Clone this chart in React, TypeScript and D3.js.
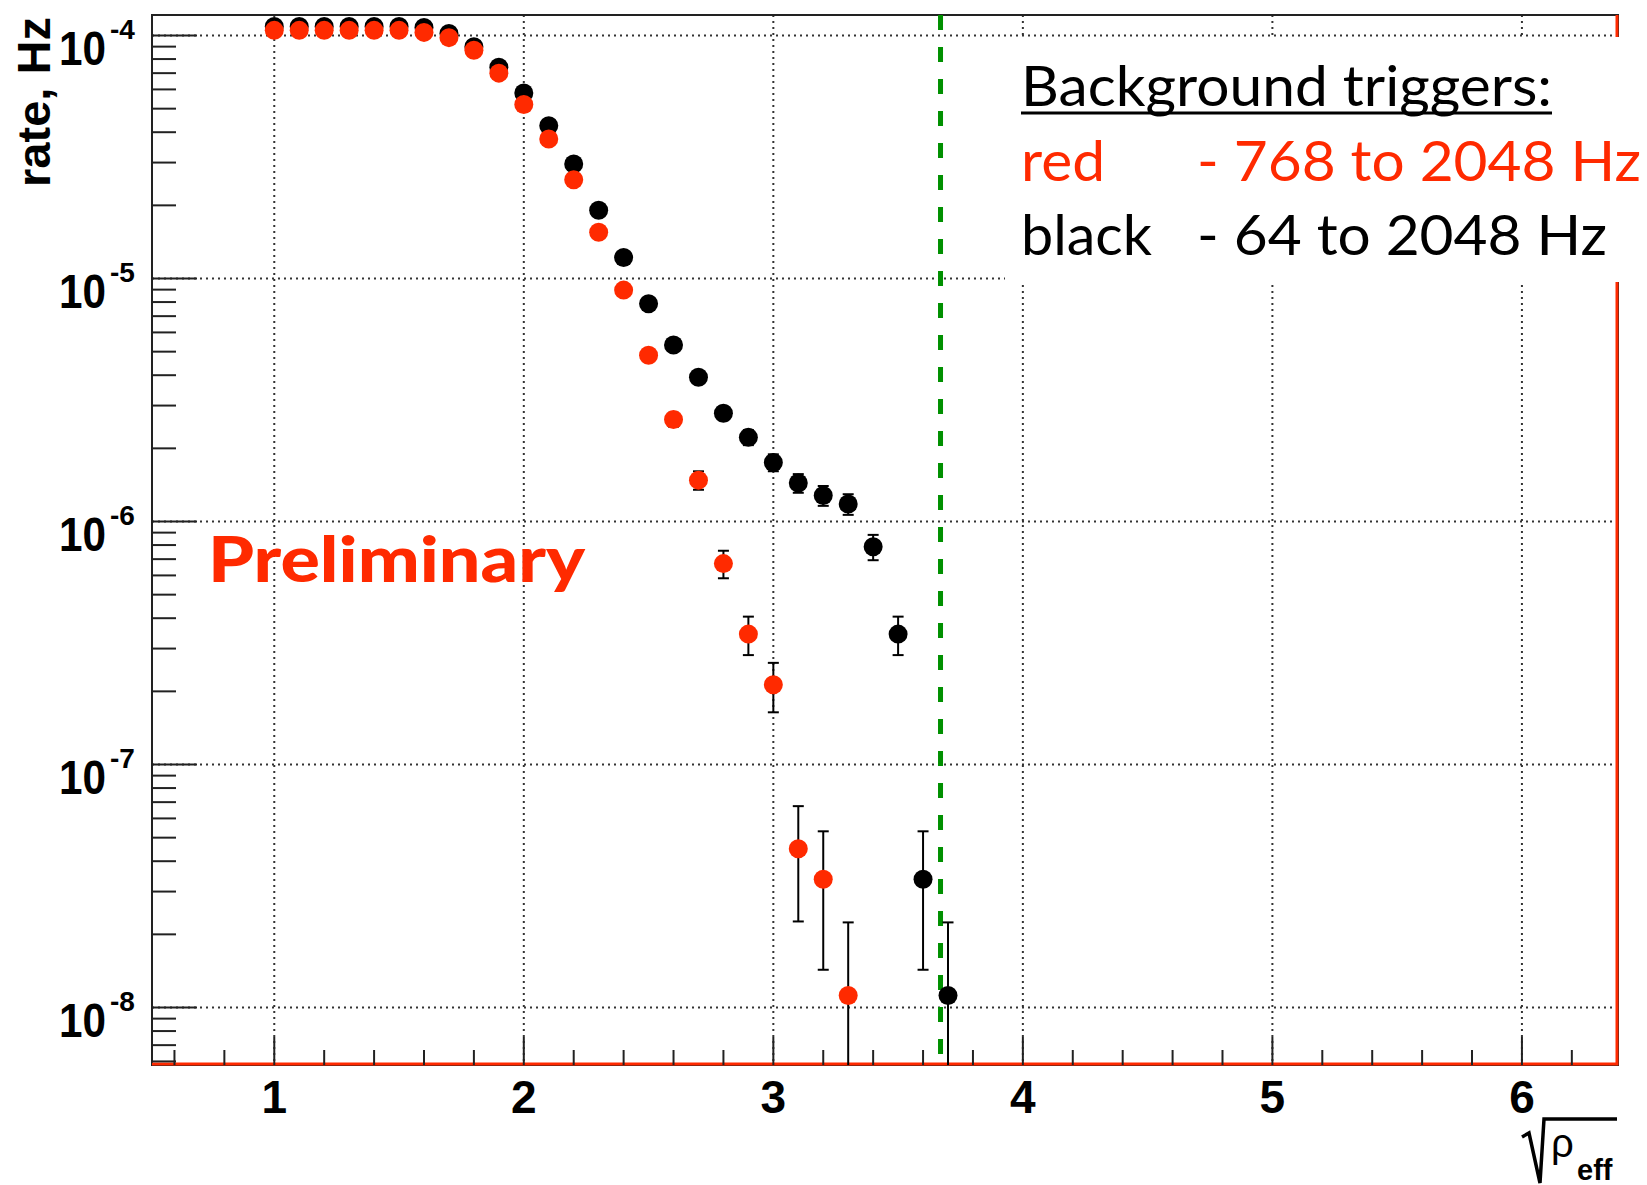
import React from "react";
import * as d3 from "d3";

// sqrt(rho_eff) bin centres
const rhoBins = [
  1.0, 1.1, 1.2, 1.3, 1.4, 1.5, 1.6, 1.7, 1.8, 1.9, 2.0, 2.1, 2.2, 2.3, 2.4,
  2.5, 2.6, 2.7, 2.8, 2.9, 3.0, 3.1, 3.2, 3.3, 3.4, 3.5, 3.6, 3.7,
];

// black: 64 to 2048 Hz
const blackRate = [
  1.09e-4, 1.09e-4, 1.09e-4, 1.09e-4, 1.09e-4, 1.09e-4, 1.08e-4, 1.02e-4,
  9.0e-5, 7.4e-5, 5.8e-5, 4.25e-5, 2.96e-5, 1.91e-5, 1.22e-5, 7.87e-6,
  5.33e-6, 3.92e-6, 2.79e-6, 2.22e-6, 1.75e-6, 1.44e-6, 1.28e-6, 1.18e-6,
  7.87e-7, 3.44e-7, 3.37e-8, 1.12e-8,
];
const blackErr = [
  1.1e-6, 1.1e-6, 1.1e-6, 1.1e-6, 1.1e-6, 1.1e-6, 1.1e-6, 1.07e-6, 1.01e-6,
  9.2e-7, 8.1e-7, 6.9e-7, 5.8e-7, 4.6e-7, 3.7e-7, 3.0e-7, 2.4e-7, 2.1e-7,
  1.77e-7, 1.58e-7, 1.4e-7, 1.27e-7, 1.2e-7, 1.15e-7, 9.4e-8, 6.2e-8,
  1.94e-8, 1.12e-8,
];

// red: 768 to 2048 Hz
const redRate = [
  1.05e-4, 1.05e-4, 1.05e-4, 1.05e-4, 1.05e-4, 1.05e-4, 1.03e-4, 9.8e-5,
  8.7e-5, 7.0e-5, 5.2e-5, 3.75e-5, 2.55e-5, 1.55e-5, 8.96e-6, 4.83e-6,
  2.63e-6, 1.48e-6, 6.71e-7, 3.44e-7, 2.13e-7, 4.5e-8, 3.37e-8, 1.12e-8,
];
const redErr = [
  1.08e-6, 1.08e-6, 1.08e-6, 1.08e-6, 1.08e-6, 1.08e-6, 1.07e-6, 1.05e-6,
  9.9e-7, 8.9e-7, 7.6e-7, 6.5e-7, 5.3e-7, 4.2e-7, 3.2e-7, 2.33e-7, 1.72e-7,
  1.29e-7, 8.7e-8, 6.2e-8, 4.9e-8, 2.24e-8, 1.94e-8, 1.12e-8,
];

const xTicks = [1, 2, 3, 4, 5, 6];
const yDecades = [-4, -5, -6, -7, -8];
const threshold = 3.67;

const legendTitle = "Background triggers:";
const legendRows = [
  { name: "red", range: "- 768 to 2048 Hz", color: "#ff2a00" },
  { name: "black", range: "- 64 to 2048 Hz", color: "#000000" },
];

const RED = "#ff2a00";
const W = 1647;
const H = 1185;
const left = 152;
const right = 1618;
const top = 15;
const bottom = 1065;

const x = d3.scaleLinear().domain([0.51, 6.385]).range([left, right]);
const y = d3
  .scaleLog()
  .domain([Math.pow(10, -8.2366), Math.pow(10, -3.9156)])
  .range([bottom, top]);

const yMin = y.domain()[0];

function Series({ rates, errs, color }) {
  return (
    <g>
      {rates.map((v, i) => {
        const cx = x(rhoBins[i]);
        const hi = v + errs[i];
        const lo = v - errs[i];
        const yHi = y(hi);
        const yLo = lo > yMin ? y(lo) : bottom;
        return (
          <g key={"e" + i} stroke="#000" strokeWidth={2}>
            <line x1={cx} x2={cx} y1={yHi} y2={yLo} />
            <line x1={cx - 5.5} x2={cx + 5.5} y1={yHi} y2={yHi} />
            {lo > yMin && <line x1={cx - 5.5} x2={cx + 5.5} y1={yLo} y2={yLo} />}
          </g>
        );
      })}
      {rates.map((v, i) => (
        <circle key={"m" + i} cx={x(rhoBins[i])} cy={y(v)} r={9.5} fill={color} />
      ))}
    </g>
  );
}

export default function App() {
  // minor ticks
  const xMinor = d3.range(6, 64, 2).map((d) => d / 10).filter((d) => Math.abs(d - Math.round(d)) > 1e-6);
  const yMinor = [];
  for (let e = -9; e <= -4; e++) {
    for (let m = 2; m <= 9; m++) {
      const v = m * Math.pow(10, e);
      if (v > yMin && v < y.domain()[1]) yMinor.push(v);
    }
  }
  const axisFont = "'Liberation Sans', Arial, Helvetica, sans-serif";
  const legendFont = "Lato, 'Open Sans', sans-serif";

  return (
    <svg
      width={W}
      height={H}
      style={{ position: "absolute", left: 0, top: 0, display: "block", background: "#fff" }}
    >
      <rect x={0} y={0} width={W} height={H} fill="#fff" />

      {/* grid */}
      <g stroke="#333" strokeWidth={2} strokeDasharray="2 4">
        {xTicks.map((t) => (
          <line key={"gx" + t} x1={x(t)} x2={x(t)} y1={top} y2={bottom} />
        ))}
        {yDecades.map((e) => (
          <line key={"gy" + e} x1={left} x2={right} y1={y(Math.pow(10, e))} y2={y(Math.pow(10, e))} />
        ))}
      </g>

      {/* frame */}
      <rect x={left} y={top} width={right - left} height={bottom - top} fill="none" stroke="#222" strokeWidth={2} />
      <polyline
        points={`${left},${bottom - 1} ${right - 1},${bottom - 1} ${right - 1},${top}`}
        fill="none"
        stroke={RED}
        strokeWidth={3}
      />

      {/* ticks */}
      <g stroke="#222" strokeWidth={2}>
        {xTicks.map((t) => (
          <line key={"tx" + t} x1={x(t)} x2={x(t)} y1={bottom} y2={bottom - 28} />
        ))}
        {xMinor.map((t) => (
          <line key={"mx" + t} x1={x(t)} x2={x(t)} y1={bottom} y2={bottom - 15} />
        ))}
        {yDecades.map((e) => (
          <line key={"ty" + e} x1={left} x2={left + 45} y1={y(Math.pow(10, e))} y2={y(Math.pow(10, e))} />
        ))}
        {yMinor.map((v, i) => (
          <line key={"my" + i} x1={left} x2={left + 24} y1={y(v)} y2={y(v)} />
        ))}
      </g>

      {/* tick labels */}
      <g fontFamily={axisFont} fontWeight="bold" fill="#000">
        {xTicks.map((t) => (
          <text key={"lx" + t} x={x(t)} y={bottom + 48} fontSize={46} textAnchor="middle">
            {t}
          </text>
        ))}
        {yDecades.map((e) => {
          const yy = y(Math.pow(10, e));
          return (
            <g key={"ly" + e}>
              <text x={106} y={yy + 29} fontSize={48} textAnchor="end" textLength={47} lengthAdjust="spacingAndGlyphs">
                10
              </text>
              <text x={110} y={yy + 3} fontSize={28}>
                {String(e)}
              </text>
            </g>
          );
        })}
        <text
          transform="translate(50,17) rotate(-90)"
          fontSize={47}
          textAnchor="end"
          textLength={170}
          lengthAdjust="spacingAndGlyphs"
        >
          rate, Hz
        </text>
      </g>

      {/* x axis title: sqrt(rho_eff) */}
      <path
        d="M1522,1137 L1529,1133 L1540,1183 L1544,1119 L1617,1119"
        fill="none"
        stroke="#000"
        strokeWidth={3.5}
        strokeLinejoin="miter"
      />
      <text x={1551} y={1157} fontFamily={axisFont} fontSize={40} fill="#000">
        ρ
      </text>
      <text x={1577} y={1180} fontFamily={axisFont} fontWeight="bold" fontSize={29} fill="#000">
        eff
      </text>

      {/* threshold */}
      <line
        x1={x(threshold)}
        x2={x(threshold)}
        y1={top}
        y2={bottom + 5}
        stroke="#009000"
        strokeWidth={5}
        strokeDasharray="15 17"
      />

      <Series rates={blackRate} errs={blackErr} color="#000" />
      <Series rates={redRate} errs={redErr} color={RED} />

      {/* Preliminary */}
      <text
        x={208}
        y={582}
        fontFamily={legendFont}
        fontWeight={900}
        fontSize={62}
        fill={RED}
        textLength={377}
        lengthAdjust="spacingAndGlyphs"
      >
        Preliminary
      </text>

      {/* legend */}
      <rect x={1005} y={37} width={W - 1005} height={245} fill="#fff" />
      <g fontFamily={legendFont} fontSize={57}>
        <text x={1021} y={106} fill="#000" textLength={531} lengthAdjust="spacingAndGlyphs">
          {legendTitle}
        </text>
        <line x1={1021} x2={1552} y1={113} y2={113} stroke="#000" strokeWidth={3} />
        <text x={1021} y={181} fill={legendRows[0].color} textLength={84} lengthAdjust="spacingAndGlyphs">
          {legendRows[0].name}
        </text>
        <text x={1197} y={181} fill={legendRows[0].color} textLength={444} lengthAdjust="spacingAndGlyphs">
          {legendRows[0].range}
        </text>
        <text x={1021} y={255} fill={legendRows[1].color} textLength={131} lengthAdjust="spacingAndGlyphs">
          {legendRows[1].name}
        </text>
        <text x={1197} y={255} fill={legendRows[1].color} textLength={410} lengthAdjust="spacingAndGlyphs">
          {legendRows[1].range}
        </text>
      </g>
    </svg>
  );
}
